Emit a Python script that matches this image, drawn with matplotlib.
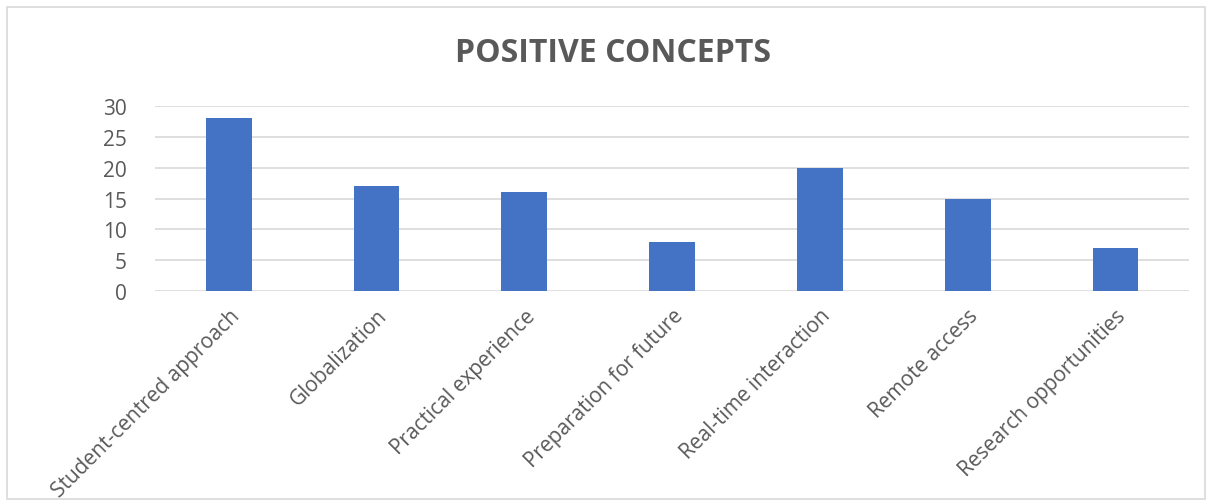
import matplotlib
matplotlib.use('Agg')
import matplotlib.pyplot as plt
from matplotlib.patches import Rectangle

# chart data
categories = ["Student-centred approach", "Globalization", "Practical experience",
              "Preparation for future", "Real-time interaction", "Remote access",
              "Research opportunities"]
counts = [28, 17, 16, 8, 20, 15, 7]
yticks = [0, 5, 10, 15, 20, 25, 30]

plt.rcParams['font.family'] = ['Open Sans', 'DejaVu Sans']
text_color = '#595959'

fig = plt.figure(figsize=(12.1, 5.02), dpi=100)
ax = fig.add_axes([0.128, 0.418, 0.855, 0.369])

x = list(range(len(categories)))
ax.bar(x, counts, width=0.31, color='#4472C4', zorder=3)

ax.set_xlim(-0.5, len(categories) - 0.5)
ax.set_ylim(0, 30)
ax.set_yticks(yticks)
ax.set_xticks(x)
ax.set_xticklabels(categories, rotation=45, ha='right', rotation_mode='anchor',
                   fontsize=15, color=text_color)
ax.tick_params(axis='y', length=0, labelsize=15, labelcolor=text_color, pad=20)
ax.tick_params(axis='x', length=0, pad=10)
ax.grid(axis='y', color='#D9D9D9', linewidth=1.2, zorder=0)
for s in ax.spines.values():
    s.set_visible(False)

fig.text(0.507, 0.893, "POSITIVE CONCEPTS", ha='center', va='center',
         fontsize=23, fontweight='bold', color=text_color)

# outer chart border
fig.patches.append(Rectangle((0.006, 0.004), 0.99, 0.98, transform=fig.transFigure,
                             fill=False, edgecolor='#D9D9D9', linewidth=1.2))

fig.savefig('out.png', dpi=100)
